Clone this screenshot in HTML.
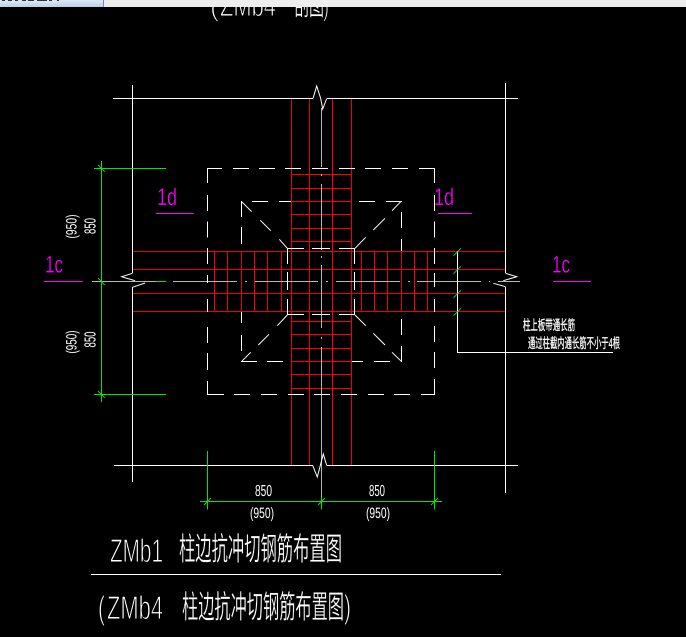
<!DOCTYPE html>
<html><head><meta charset="utf-8"><style>
html,body{margin:0;padding:0;background:#000;width:686px;height:637px;overflow:hidden}
svg{display:block}
text{font-family:"Liberation Sans","Noto Sans CJK SC",sans-serif;fill:#fff}
.t{stroke:#000;stroke-width:1px}
.c{stroke:#000;stroke-width:.3px}
.m{fill:#ff00ff;stroke:#000;stroke-width:.35px}
.b{stroke:#fff;stroke-width:.3px}
</style></head><body>
<svg width="686" height="637" viewBox="0 0 686 637" xmlns="http://www.w3.org/2000/svg" shape-rendering="crispEdges">
<defs><linearGradient id="g" x1="0" y1="0" x2="0" y2="1"><stop offset="0" stop-color="#dfe8f4"/><stop offset="1" stop-color="#bcd0e8"/></linearGradient></defs>
<rect width="686" height="637" fill="#000"/>

<!-- top clipped text -->
<g text-rendering="geometricPrecision">
<text class="t" x="210" y="16" font-size="27" textLength="9" lengthAdjust="spacingAndGlyphs">(</text>
<text class="t" x="220" y="16" font-size="31" textLength="56" lengthAdjust="spacingAndGlyphs">ZMb4</text>
<text class="c" x="294" y="15" font-size="30" textLength="30" lengthAdjust="spacingAndGlyphs">剖图</text>
<text class="t" x="323" y="16" font-size="27" textLength="6" lengthAdjust="spacingAndGlyphs">)</text>
</g>

<!-- top bar -->
<rect width="686" height="7" fill="#eeeeee"/>
<rect width="103" height="7" fill="url(#g)"/>
<rect x="103" width="1" height="7" fill="#6a8fc0"/>
<path d="M2 0.5h3M8 0.5h4M15 0.5h3M22 0.5h4M28 0.5h6M37 0.5h10M49 0.5h3M57 0.5h2" stroke="#333" stroke-width="1"/>

<!-- red lines -->
<g stroke="#ee0000" stroke-width="1" fill="none">
<path d="M291.5 98V465M309.5 98V465M351.5 98V465"/>
<path d="M132 251.5H505M132 269.5H505M132 293.5H505M132 311.5H505"/>
<path d="M227.5 251V311M241.5 251V311M267.5 251V311M281.5 251V311M361.5 251V311M387.5 251V311M401.5 251V311M427.5 251V311"/>
</g>
<g stroke="#ff0000" stroke-width="1" fill="none">
<path d="M332.5 98V465"/>
<path d="M214.5 251V311M254.5 251V311M374.5 251V311M414.5 251V311"/>
<path d="M291 174.5H352M291 188.5H352M291 201.5H352M291 214.5H352M291 228.5H352M291 241.5H352"/>
<path d="M291 321.5H352M291 334.5H352M291 348.5H352M291 361.5H352M291 374.5H352M291 388.5H352"/>
</g>

<!-- grey centre lines -->
<g stroke="#b8b8b8" stroke-width="1" fill="none">
<path d="M321.5 108V167M321.5 174V176M321.5 184V250M321.5 256V258M321.5 265V328M321.5 337V339M321.5 347V497"/>
<path d="M92 281.5H156M173 281.5H237M245 281.5H247M255 281.5H318M326 281.5H328M336 281.5H400M408 281.5H410M417 281.5H481M489 281.5H490M498 281.5H520"/>
</g>

<!-- white frame -->
<g stroke="#fff" stroke-width="1" fill="none">
<path d="M113 98.5H313M327 98.5H518"/>
<path d="M114 465.5H313M327 465.5H518"/>
<path d="M132.5 85V273M132.5 287V482"/>
<path d="M505.5 83V273M505.5 287V493"/>
<g shape-rendering="geometricPrecision">
<path d="M313 98.5L316.7 86L320.7 98.5L322.7 109L326.7 98.5"/>
<path d="M312.7 465.5L317.3 477L323.3 454L326.7 465.5"/>
<path d="M132.5 273.3L121.7 276.7L135 280.7M145 283L132.5 287.3"/>
<path d="M505.5 273.3L516.7 276.7L503.3 280.7M493.3 283.3L505.5 286.7"/>
</g>
<path d="M457.5 251V352.5H613"/>
<path d="M91 574.5H501"/>
</g>

<!-- outer dashed square -->
<g stroke="#fff" stroke-width="1" fill="none">
<path d="M207 168.5H222M233 168.5H249M259 168.5H275M285 168.5H301M312 168.5H328M339 168.5H355M365 168.5H381M392 168.5H408M419 168.5H435"/>
<path d="M207 394.5H224M234 394.5H250M261 394.5H277M288 394.5H304M314 394.5H330M341 394.5H357M368 394.5H384M394 394.5H410M421 394.5H435"/>
<path d="M207.5 168V183M207.5 195V211M207.5 221.5V237.5M207.5 248V264M207.5 275V283M207.5 299V312M207.5 327V343M207.5 353V370M207.5 381V395"/>
<path d="M434.5 168V183M434.5 195V211M434.5 221.5V237.5M434.5 248V264M434.5 273V287M434.5 299V312M434.5 326V342M434.5 352V368M434.5 379V395"/>

<!-- middle dashed -->
<path d="M252 201.5H268M279 201.5H291M359 201.5H375M386 201.5H402"/>
<path d="M241.5 201V217M241.5 227V244M241.5 312V323M241.5 335V351"/>
<path d="M401.5 212V228M401.5 239V251M401.5 319V335M401.5 346V362"/>
<path d="M241 361.5H257M267 361.5H283M352 361.5H363M374 361.5H390"/>

<!-- inner dashed -->
<path d="M287 248.5H304M312 248.5H330M339 248.5H355"/>
<path d="M287 314.5H304M312 314.5H330M339 314.5H355"/>
<path d="M287.5 248V264M287.5 272V290M287.5 299V315"/>
<path d="M354.5 248V264M354.5 272V290M354.5 299V315"/>
<g shape-rendering="geometricPrecision">
<path d="M241.3 201.3L251.7 211.7M260.3 220.3L270.7 230.7M279.3 239.3L287.3 248.3"/>
<path d="M400.7 201.7L392 210.7M385 218.3L373.3 230M365.7 237.3L355 248.3"/>
<path d="M287.3 315L277.3 325.7M269 334.3L258.3 345M250.7 352.3L241.7 361.3"/>
<path d="M355 315L365.7 325.7M373.3 333.3L385 345M392 352.3L401.3 361.3"/>
</g>
</g>

<!-- green dims -->
<g stroke="#00e800" stroke-width="1" fill="none">
<path d="M101.5 161V402"/>
<path d="M94 168.5H166M94 394.5H166M156 281.5H166"/>
<path d="M200 501.5H442"/>
<path d="M207.5 451V509.5M434.5 451V509.5M321.5 497V509.5"/>
<g shape-rendering="geometricPrecision">
<path d="M98 165L104.7 171.7M98 278L104.7 285M98 391L104.7 397.7"/>
<path d="M204 505L211 498M318 505L325 498M431 505L438 498"/>
<path d="M453.5 255.7L461 248.3M453.5 273.7L461 266.3M453.5 297.7L461 290.3M453.5 315.7L461 308.3"/>
</g>
</g>

<!-- magenta underlines -->
<g stroke="#f0f" stroke-width="1" fill="none">
<path d="M156 213.5H194M44 281.5H83M438 213.5H472M553 281.5H591"/>
</g>

<g text-rendering="geometricPrecision">
<!-- magenta labels -->
<text class="m" x="157" y="205" font-size="24" textLength="20" lengthAdjust="spacingAndGlyphs">1d</text>
<text class="m" x="45" y="272.5" font-size="24" textLength="18" lengthAdjust="spacingAndGlyphs">1c</text>
<text class="m" x="434" y="205" font-size="24" textLength="20" lengthAdjust="spacingAndGlyphs">1d</text>
<text class="m" x="552" y="272.5" font-size="24" textLength="18" lengthAdjust="spacingAndGlyphs">1c</text>

<!-- dims text -->
<text x="255" y="496" font-size="16" textLength="17" lengthAdjust="spacingAndGlyphs">850</text>
<text x="369" y="496" font-size="16" textLength="16" lengthAdjust="spacingAndGlyphs">850</text>
<text x="250" y="518" font-size="15" textLength="24" lengthAdjust="spacingAndGlyphs">(950)</text>
<text x="366" y="518" font-size="15" textLength="24" lengthAdjust="spacingAndGlyphs">(950)</text>

<text transform="translate(76.5 238.5) rotate(-90)" font-size="15" textLength="24" lengthAdjust="spacingAndGlyphs">(950)</text>
<text transform="translate(95.5 234) rotate(-90)" font-size="16" textLength="16" lengthAdjust="spacingAndGlyphs">850</text>
<text transform="translate(76.5 353.5) rotate(-90)" font-size="15" textLength="23" lengthAdjust="spacingAndGlyphs">(950)</text>
<text transform="translate(95.5 347.5) rotate(-90)" font-size="16" textLength="16" lengthAdjust="spacingAndGlyphs">850</text>

<!-- note -->
<text class="b" x="523" y="330" font-size="14" textLength="52" lengthAdjust="spacingAndGlyphs">柱上板带通长筋</text>
<text class="b" x="528" y="348" font-size="14" textLength="92" lengthAdjust="spacingAndGlyphs">通过柱截内通长筋不小于4根</text>

<!-- titles -->
<text class="t" x="110" y="562" font-size="33" textLength="53" lengthAdjust="spacingAndGlyphs">ZMb1</text>
<text class="c" x="179" y="560" font-size="32" textLength="163" lengthAdjust="spacingAndGlyphs">柱边抗冲切钢筋布置图</text>
<text class="t" x="98" y="619" font-size="33" textLength="7" lengthAdjust="spacingAndGlyphs">(</text>
<text class="t" x="107" y="619" font-size="33" textLength="56" lengthAdjust="spacingAndGlyphs">ZMb4</text>
<text class="c" x="182" y="618" font-size="32" textLength="162" lengthAdjust="spacingAndGlyphs">柱边抗冲切钢筋布置图</text>
<text class="t" x="344" y="618" font-size="33" textLength="7" lengthAdjust="spacingAndGlyphs">)</text>
</g>
</svg>
</body></html>
